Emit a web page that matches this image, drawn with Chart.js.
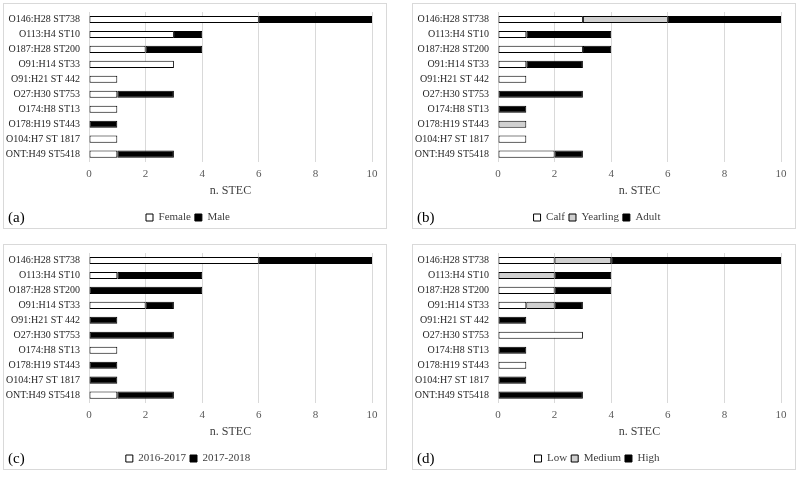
<!DOCTYPE html>
<html>
<head>
<meta charset="utf-8">
<script src="https://cdn.jsdelivr.net/npm/chart.js@4"></script>
<style>
  body { margin: 0; background: #fff; width: 800px; height: 477px; position: relative; font-family: "Liberation Serif", "Times New Roman", serif; }
  .panel { position: absolute; width: 384px; height: 226px; border: 1px solid #d9d9d9; box-sizing: border-box; }
  .panel canvas { position: absolute; left: 0; top: 0; }
  .tag { position: absolute; left: 4px; top: 205px; font-size: 15px; color: #000; }
</style>
</head>
<body>
<div class="panel" id="pa" style="left:3px;top:3px;"><canvas id="ca"></canvas><div class="tag">(a)</div></div>
<div class="panel" id="pb" style="left:412px;top:3px;"><canvas id="cb"></canvas><div class="tag">(b)</div></div>
<div class="panel" id="pc" style="left:3px;top:244px;"><canvas id="cc"></canvas><div class="tag">(c)</div></div>
<div class="panel" id="pd" style="left:412px;top:244px;"><canvas id="cd"></canvas><div class="tag">(d)</div></div>
<script>
'use strict';

let strains = ['O146:H28 ST738', 'O113:H4 ST10', 'O187:H28 ST200', 'O91:H14 ST33', 'O91:H21 ST 442', 'O27:H30 ST753', 'O174:H8 ST13', 'O178:H19 ST443', 'O104:H7 ST 1817', 'ONT:H49 ST5418'];
let xTicks = [0, 2, 4, 6, 8, 10];

// (a) sex
let female = [6, 3, 2, 3, 1, 1, 1, 0, 1, 1];
let male = [4, 1, 2, 0, 0, 2, 0, 1, 0, 2];

// (b) age
let calf = [3, 1, 3, 1, 1, 0, 0, 0, 1, 2];
let yearling = [3, 0, 0, 0, 0, 0, 0, 1, 0, 0];
let adult = [4, 3, 1, 2, 0, 3, 1, 0, 0, 1];

// (c) season
let season1617 = [6, 1, 0, 2, 0, 0, 1, 0, 0, 1];
let season1718 = [4, 3, 4, 1, 1, 3, 0, 1, 1, 2];

// (d) level
let low = [2, 0, 2, 1, 0, 3, 0, 1, 0, 0];
let medium = [2, 2, 0, 1, 0, 0, 0, 0, 0, 0];
let high = [6, 2, 2, 1, 1, 0, 1, 0, 1, 3];

let WHITE = '#ffffff';
let GREY = '#d0d0d0';
let BLACK = '#000000';
let fontName = '"Liberation Serif", "Times New Roman", serif';

function makeSet(label, data, color) {
  return {
    label: label,
    data: data,
    backgroundColor: color,
    borderColor: '#000',
    borderWidth: 1,
    borderSkipped: false,
    barPercentage: 0.95,
    categoryPercentage: 0.5
  };
}

function drawChart(id, sets) {
  let canvas = document.getElementById(id);
  canvas.width = 382;
  canvas.height = 224;
  canvas.style.width = '382px';
  canvas.style.height = '224px';
  new Chart(canvas.getContext('2d'), {
    type: 'bar',
    data: { labels: strains, datasets: sets },
    options: {
      indexAxis: 'y',
      responsive: false,
      animation: false,
      layout: { padding: { top: 8, right: 14, left: 0, bottom: 0 } },
      scales: {
        x: {
          stacked: true,
          min: 0,
          max: 10,
          afterBuildTicks: function (axis) { axis.ticks = xTicks.map(v => ({ value: v })); },
          grid: { color: '#d9d9d9', drawTicks: false },
          border: { display: false },
          ticks: { color: '#595959', font: { family: fontName, size: 11 }, padding: 6 },
          title: { display: true, text: 'n. STEC', color: '#404040', font: { family: fontName, size: 12, lineHeight: 0.6 }, padding: { top: 0, bottom: 14 } }
        },
        y: {
          stacked: true,
          grid: { display: false, drawTicks: false },
          border: { display: false },
          ticks: { color: '#262626', font: { family: fontName, size: 10 }, padding: 9, autoSkip: false },
          afterFit: function (axis) {
            axis.width = 85;
            // labels sit at category centres, so no extra room is needed above/below
            axis.paddingTop = 0;
            axis.paddingBottom = 0;
          }
        }
      },
      plugins: {
        legend: {
          position: 'bottom',
          maxHeight: 20,
          labels: {
            color: '#404040',
            font: { family: fontName, size: 11 },
            boxWidth: 7,
            boxHeight: 7,
            padding: 4,
            useBorderRadius: false
          }
        },
        tooltip: { enabled: false }
      }
    }
  });
}

drawChart('ca', [makeSet('Female', female, WHITE), makeSet('Male', male, BLACK)]);
drawChart('cb', [makeSet('Calf', calf, WHITE), makeSet('Yearling', yearling, GREY), makeSet('Adult', adult, BLACK)]);
drawChart('cc', [makeSet('2016-2017', season1617, WHITE), makeSet('2017-2018', season1718, BLACK)]);
drawChart('cd', [makeSet('Low', low, WHITE), makeSet('Medium', medium, GREY), makeSet('High', high, BLACK)]);
</script>
</body>
</html>
